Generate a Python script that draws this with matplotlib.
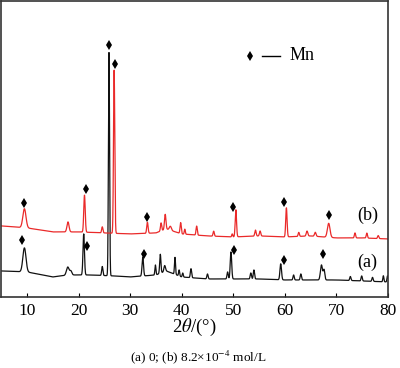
import numpy as np
import matplotlib
matplotlib.use("Agg")
import matplotlib.pyplot as plt

plt.rcParams['font.family'] = ['Liberation Serif', 'DejaVu Serif']
plt.rcParams['mathtext.fontset'] = 'stix'

# ---- data (intensity in arbitrary units) ----
# background levels (2theta, level)
bg_a_pos = [5, 10, 15, 18, 22, 27, 30, 35, 37, 40, 45, 50, 55, 60, 65, 70, 75, 80]
bg_a_lvl = [26, 25, 20, 22, 22, 21, 20, 22, 26, 20, 18, 18, 18, 17, 17, 17, 16, 15]
bg_b_pos = [5, 10, 15, 20, 25, 30, 35, 37, 40, 45, 50, 55, 60, 65, 70, 75, 80]
bg_b_lvl = [71, 69, 65, 65, 64, 63, 64, 68, 63, 61, 60, 61, 60, 61, 59, 59, 58]

# peaks: position (2theta), amplitude above background, width (sigma, deg)
pk_a_pos = [9.5, 17.9, 18.5, 21.0, 24.6, 25.9, 32.45, 34.9, 35.85, 36.7, 38.7, 39.5, 40.2,
            41.8, 45.0, 48.9, 49.55, 53.4, 54.0, 59.2, 61.7, 63.1, 67.1, 67.6, 72.7, 74.9,
            77.0, 79.1, 79.9]
pk_a_amp = [24, 8, 4, 41, 9, 223, 19, 10, 19, 6, 17, 6, 4,
            9, 5, 7, 27, 6, 9, 16, 5, 6, 15, 10, 4, 5,
            4, 6, 6]
pk_a_wid = [0.3, 0.25, 0.2, 0.14, 0.12, 0.11, 0.14, 0.1, 0.12, 0.15, 0.1, 0.1, 0.1,
            0.12, 0.12, 0.12, 0.14, 0.12, 0.12, 0.15, 0.12, 0.12, 0.2, 0.15, 0.12, 0.12,
            0.12, 0.1, 0.1]

pk_b_pos = [9.5, 17.95, 21.15, 24.6, 26.9, 33.35, 36.0, 36.8, 37.8, 39.8, 40.6, 42.9, 46.2,
            49.8, 50.5, 54.3, 55.2, 60.3, 62.7, 64.3, 65.9, 68.5, 73.6, 75.9, 78.1]
pk_b_amp = [19, 10, 37, 6, 163, 11, 8, 15, 4, 11, 5, 9, 5,
            3, 27, 6, 5, 29, 4, 5, 4, 14, 5, 5, 3]
pk_b_wid = [0.3, 0.2, 0.14, 0.12, 0.12, 0.13, 0.12, 0.14, 0.2, 0.12, 0.1, 0.12, 0.12,
            0.1, 0.13, 0.13, 0.13, 0.13, 0.12, 0.15, 0.15, 0.25, 0.12, 0.12, 0.12]

# Mn markers (2theta, height)
mk_a_pos = [9.05, 21.7, 25.9, 32.6, 50.1, 59.8, 67.4]
mk_a_hgt = [57, 51, 252, 43, 47, 37, 43]
mk_b_pos = [9.4, 21.4, 27.15, 33.3, 50.0, 59.9, 68.5]
mk_b_hgt = [94, 108, 233, 80, 90, 95, 82]

xticks = [10, 20, 30, 40, 50, 60, 70, 80]


def pattern(x, bpos, blvl, ppos, pamp, pwid):
    y = np.interp(x, bpos, blvl)
    for p, a, w in zip(ppos, pamp, pwid):
        y = y + a * np.exp(-0.5 * ((x - p) / w) ** 2)
    return y


x = np.arange(5, 80.001, 0.02)
ya = pattern(x, bg_a_pos, bg_a_lvl, pk_a_pos, pk_a_amp, pk_a_wid)
yb = pattern(x, bg_b_pos, bg_b_lvl, pk_b_pos, pk_b_amp, pk_b_wid)

fig = plt.figure(figsize=(4, 3.68), dpi=100)
ax = fig.add_axes([0.003, 0.193, 0.967, 0.805])

ax.plot(x, ya, color='#111111', lw=0.9)
ax.plot(x, yb, color='#ea2a2a', lw=0.9)
ax.plot(mk_a_pos, mk_a_hgt, ls='none', marker='d', ms=5, color='black', mew=0)
ax.plot(mk_b_pos, mk_b_hgt, ls='none', marker='d', ms=5, color='black', mew=0)

# legend-like annotation
ax.plot([53.2], [241], ls='none', marker='d', ms=5, color='black', mew=0)
ax.plot([55.5, 59.0], [241, 241], color='black', lw=1.0)
ax.text(61.0, 241, 'Mn', fontsize=13, va='center', ha='left')

ax.text(76.0, 82, '(b)', fontsize=13, va='center', ha='center')
ax.text(76.0, 35, '(a)', fontsize=13, va='center', ha='center')

ax.set_xlim(5, 80)
ax.set_ylim(0, 296)
ax.set_xticks(xticks)
ax.set_xticklabels([str(t) for t in xticks], fontsize=12.5)
ax.set_yticks([])
ax.tick_params(axis='x', direction='in', length=3, width=0.8, pad=4)
for s in ax.spines.values():
    s.set_color('#333333')
    s.set_linewidth(1.2)

ax.set_xlabel(r'2$\mathit{\theta}$/(°)', fontsize=13.5, labelpad=-1)
fig.text(0.495, 0.03, r'(a) 0; (b) 8.2×10$^{-4}$ mol/L', fontsize=9.5, ha='center', va='center')

fig.savefig('out.png', dpi=100)
